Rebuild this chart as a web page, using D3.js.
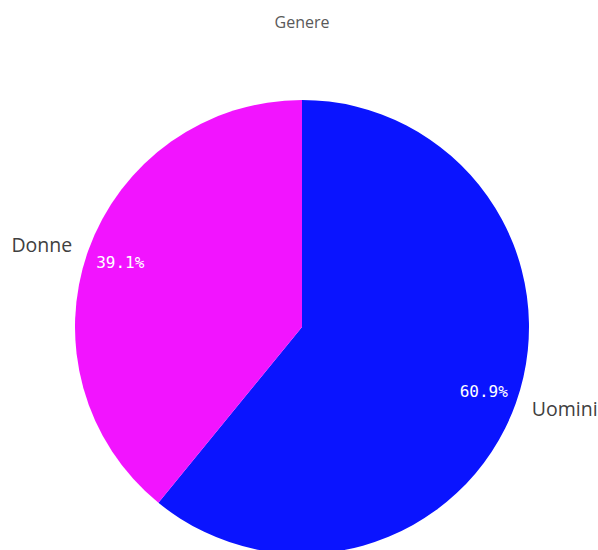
<!DOCTYPE html>
<html><head><meta charset="utf-8">
<script src="https://cdn.jsdelivr.net/npm/d3@7"></script>
<style>body{margin:0;background:#fff;overflow:hidden}</style>
</head><body>
<svg id="c" width="598" height="550"></svg>
<script>
const categories = ["Uomini", "Donne"];
const values = [60.9, 39.1];
const colors = ["#0a14ff", "#f214ff"];
const title = "Genere";

const svg = d3.select("#c");
const cx = 302, cy = 327, R = 227;
svg.append("text").attr("x", 302).attr("y", 28).attr("text-anchor", "middle")
  .attr("font-family", "Open Sans, sans-serif").attr("font-size", 16).attr("fill", "#595959").text(title);

const data = categories.map((c, i) => ({cat: c, v: values[i], col: colors[i]}));
const pie = d3.pie().value(d => d.v).sort(null);
const arcs = pie(data);
const arc = d3.arc().innerRadius(0).outerRadius(R);
const g = svg.append("g").attr("transform", `translate(${cx},${cy})`);
g.selectAll("path").data(arcs).join("path").attr("d", arc).attr("fill", d => d.data.col);

const inner = d3.arc().innerRadius(193).outerRadius(193);
g.selectAll("text.pct").data(arcs).join("text").attr("class", "pct")
  .attr("transform", d => `translate(${inner.centroid(d)})`)
  .attr("text-anchor", "middle").attr("dy", "0.35em")
  .attr("font-family", "DejaVu Sans Mono, monospace").attr("font-size", 16).attr("fill", "#fff")
  .text(d => d.data.v.toFixed(1) + "%");

const outer = d3.arc().innerRadius(244).outerRadius(244);
g.selectAll("text.lab").data(arcs).join("text").attr("class", "lab")
  .attr("transform", d => `translate(${outer.centroid(d)})`)
  .attr("text-anchor", d => (d.startAngle + d.endAngle) / 2 < Math.PI ? "start" : "end")
  .attr("dy", "0.35em")
  .attr("font-family", "Open Sans, sans-serif").attr("font-size", 19.5).attr("fill", "#404040")
  .text(d => d.data.cat);
</script>
</body></html>
